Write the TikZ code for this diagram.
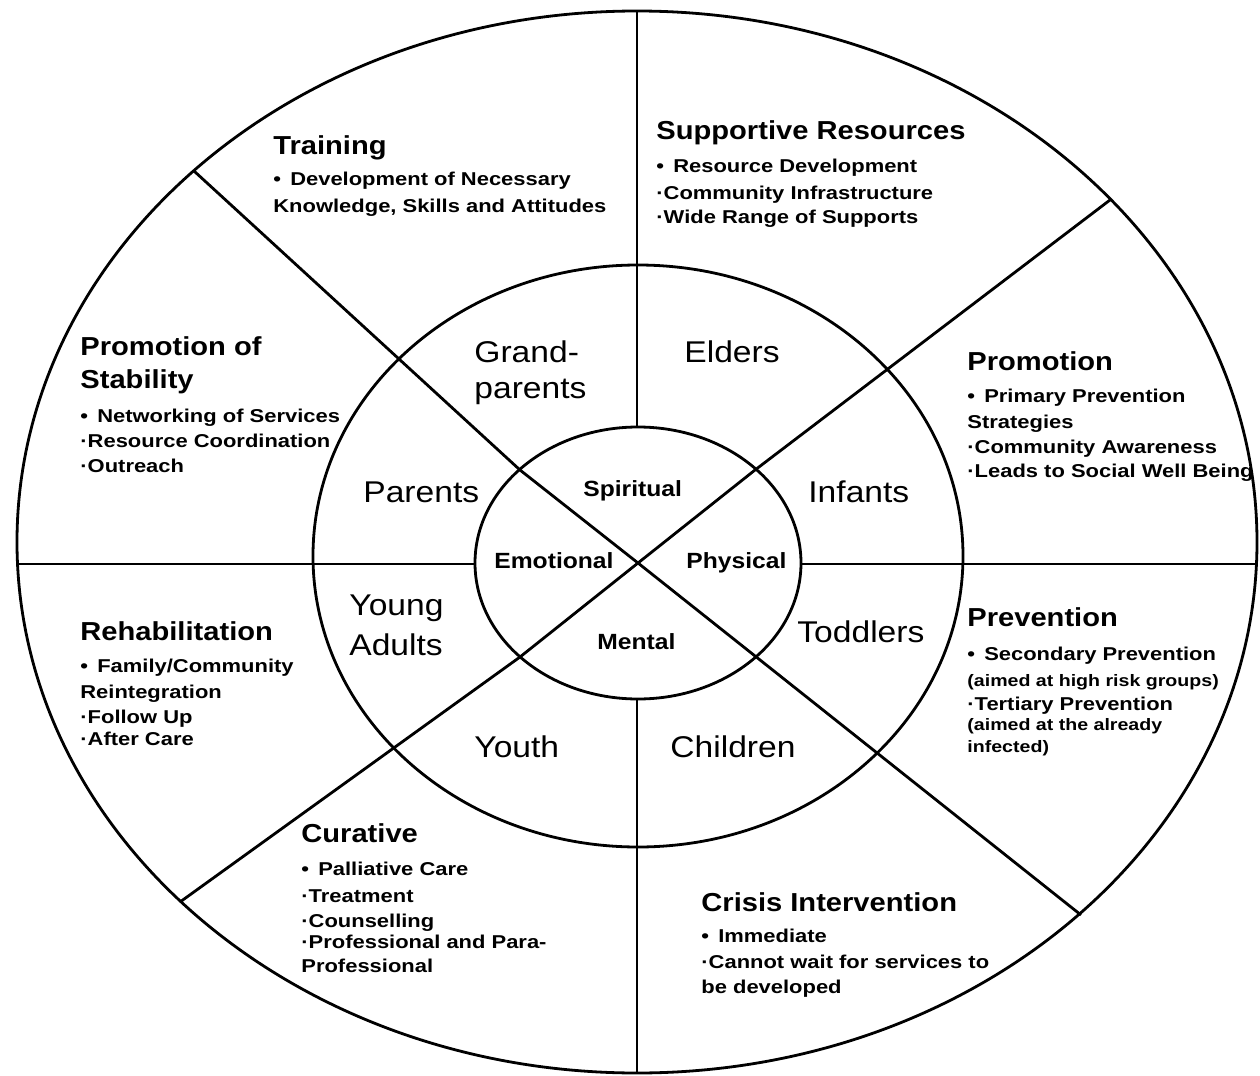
\documentclass[tikz,border=0pt]{standalone}
\usepackage{fontspec}
\setmainfont{Liberation Sans}
\newfontfamily\headfont[FakeStretch=1.12]{Liberation Sans}
\newfontfamily\listfont[FakeStretch=1.18]{Liberation Sans}
\usepackage{tikz}

\newcommand{\bul}{\textbullet\hspace{4.6pt}}

\begin{document}
\begin{tikzpicture}
  [
    x=0.5pt, y=-0.5pt,
    wheel/.style={draw=black, line width=1.4pt},
    head/.style={anchor=base west, inner sep=0pt,
      font=\headfont\bfseries\fontsize{13}{15}\selectfont},
    entry/.style={anchor=base west, inner sep=0pt,
      font=\listfont\bfseries\fontsize{9.3}{11}\selectfont},
    paren/.style={anchor=base west, inner sep=0pt,
      font=\listfont\bfseries\fontsize{8.3}{10}\selectfont},
    ring/.style={anchor=base west, inner sep=0pt,
      font=\headfont\fontsize{15}{18}\selectfont},
    core/.style={anchor=base west, inner sep=0pt,
      font=\headfont\bfseries\fontsize{11}{13}\selectfont}
  ]
  \useasboundingbox (0,0) rectangle (1260,1076);

  % rings
  \draw [wheel] (637,542) ellipse [x radius=310pt, y radius=265.5pt];
  \draw [wheel] (638,556) ellipse [x radius=162.5pt, y radius=145.5pt];
  \draw [wheel] (638,563) ellipse [x radius=81.5pt, y radius=68pt];

  % spokes
  \coordinate (c)   at (638,563);
  \coordinate (top) at (637,11);
  \coordinate (it)  at (637,427);
  \coordinate (ib)  at (637,699);
  \coordinate (bot) at (637,1073);
  \coordinate (lft) at (17,564);
  \coordinate (il)  at (475,564);
  \coordinate (ir)  at (801,564);
  \coordinate (rgt) at (1257,564);
  \coordinate (ul)  at (194,171);
  \coordinate (ulk) at (520,470);
  \coordinate (ur)  at (1110,200);
  \coordinate (urk) at (755,470);
  \coordinate (ll)  at (180,902);
  \coordinate (llk) at (520,657);
  \coordinate (lr)  at (1081,915);

  \draw [wheel] (top) -- (it);
  \draw [wheel] (ib) -- (bot);
  \draw [wheel] (lft) -- (il);
  \draw [wheel] (ir) -- (rgt);
  \draw [wheel] (ul) -- (ulk) -- (c) -- (lr);
  \draw [wheel] (ur) -- (urk) -- (c) -- (llk) -- (ll);

  % outer ring
  \node (tr0) at (273,154) [head]  {Training};
  \node (tr1) at (273,185) [entry] {\bul Development of Necessary};
  \node (tr2) at (273,212) [entry] {Knowledge, Skills and Attitudes};

  \node (sr0) at (656,139) [head]  {Supportive Resources};
  \node (sr1) at (656,172) [entry] {\bul Resource Development};
  \node (sr2) at (656,199) [entry] {·Community Infrastructure};
  \node (sr3) at (656,223) [entry] {·Wide Range of Supports};

  \node (ps0) at (80,355) [head]  {Promotion of};
  \node (ps1) at (80,388) [head]  {Stability};
  \node (ps2) at (80,422) [entry] {\bul Networking of Services};
  \node (ps3) at (80,447) [entry] {·Resource Coordination};
  \node (ps4) at (80,472) [entry] {·Outreach};

  \node (pm0) at (967,370) [head]  {Promotion};
  \node (pm1) at (967,402) [entry] {\bul Primary Prevention};
  \node (pm2) at (967,428) [entry] {Strategies};
  \node (pm3) at (967,453) [entry] {·Community Awareness};
  \node (pm4) at (967,477) [entry] {·Leads to Social Well Being};

  \node (rh0) at (80,640) [head]  {Rehabilitation};
  \node (rh1) at (80,672) [entry] {\bul Family/Community};
  \node (rh2) at (80,698) [entry] {Reintegration};
  \node (rh3) at (80,723) [entry] {·Follow Up};
  \node (rh4) at (80,745) [entry] {·After Care};

  \node (pv0) at (967,626) [head]  {Prevention};
  \node (pv1) at (967,660) [entry] {\bul Secondary Prevention};
  \node (pv2) at (967,686) [paren] {(aimed at high risk groups)};
  \node (pv3) at (967,710) [entry] {·Tertiary Prevention};
  \node (pv4) at (967,730) [paren] {(aimed at the already};
  \node (pv5) at (967,752) [paren] {infected)};

  \node (cu0) at (301,842) [head]  {Curative};
  \node (cu1) at (301,875) [entry] {\bul Palliative Care};
  \node (cu2) at (301,902) [entry] {·Treatment};
  \node (cu3) at (301,927) [entry] {·Counselling};
  \node (cu4) at (301,948) [entry] {·Professional and Para-};
  \node (cu5) at (301,972) [entry] {Professional};

  \node (ci0) at (701,911) [head]  {Crisis Intervention};
  \node (ci1) at (701,942) [entry] {\bul Immediate};
  \node (ci2) at (701,968) [entry] {·Cannot wait for services to};
  \node (ci3) at (701,993) [entry] {be developed};

  % middle ring
  \node (gp1) at (474,362) [ring] {Grand-};
  \node (gp2) at (474,398) [ring] {parents};
  \node (el)  at (684,362) [ring] {Elders};
  \node (pa)  at (363,502) [ring] {Parents};
  \node (inf) at (808,502) [ring] {Infants};
  \node (ya1) at (349,615) [ring] {Young};
  \node (ya2) at (349,655) [ring] {Adults};
  \node (td)  at (797,642) [ring] {Toddlers};
  \node (yo)  at (474,757) [ring] {Youth};
  \node (ch)  at (670,757) [ring] {Children};

  % inner ring
  \node (sp) at (583,496) [core] {Spiritual};
  \node (em) at (494,568) [core] {Emotional};
  \node (ph) at (686,568) [core] {Physical};
  \node (me) at (597,649) [core] {Mental};
\end{tikzpicture}
\end{document}
